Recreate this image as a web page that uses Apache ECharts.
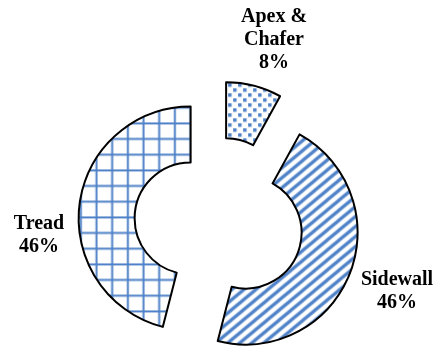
<!DOCTYPE html>
<html>
<head>
<meta charset="utf-8">
<script src="https://cdn.jsdelivr.net/npm/echarts@6/dist/echarts.min.js"></script>
<style>
  html, body { margin: 0; padding: 0; background: #fff; }
  #chart { width: 438px; height: 347px; }
</style>
</head>
<body>
<div id="chart"></div>
<script>
// Tyre component shares
const categories = ['Apex &\nChafer', 'Sidewall', 'Tread'];
const shares = [8, 46, 46];

const BLUE = '#4f82c8';

// Fill patterns drawn onto small canvases
function makeTile(w, h, draw) {
  const c = document.createElement('canvas');
  c.width = w; c.height = h;
  const ctx = c.getContext('2d');
  ctx.fillStyle = '#fff';
  ctx.fillRect(0, 0, w, h);
  draw(ctx, w, h);
  return c;
}

const dotsTile = makeTile(10, 10, (ctx) => {
  ctx.fillStyle = BLUE;
  ctx.fillRect(1, 1, 3.5, 3.5);
  ctx.fillRect(6, 6, 3.5, 3.5);
});

// rising diagonal stripes, about 40 degrees
const stripeTile = makeTile(12, 10, (ctx, w, h) => {
  ctx.strokeStyle = BLUE;
  ctx.lineWidth = 3.3;
  ctx.beginPath();
  for (let k = -1; k <= 1; k++) {
    ctx.moveTo(-w + k * w, 2 * h);
    ctx.lineTo(2 * w + k * w, -h);
  }
  ctx.stroke();
});

const gridTile = makeTile(47, 47, (ctx, s) => {
  ctx.strokeStyle = BLUE;
  ctx.lineWidth = 2;
  ctx.beginPath();
  const xs = [-0.5, 15.2, 30.8, 46.5];
  const ys = [1.6, 17.3, 33.0];
  xs.forEach(x => { ctx.moveTo(x, 0); ctx.lineTo(x, s); });
  ys.forEach(y => { ctx.moveTo(0, y); ctx.lineTo(s, y); });
  ctx.stroke();
});

const fills = [dotsTile, stripeTile, gridTile];

// Label block centres
const labelSpots = [
  { x: 274, y: 40 },
  { x: 397, y: 291 },
  { x: 39, y: 235 }
];

const chart = echarts.init(document.getElementById('chart'), null, { renderer: 'canvas' });

const data = categories.map((name, i) => {
  const style = {
    color: { image: fills[i], repeat: 'repeat' },
    borderColor: '#000',
    borderWidth: 2
  };
  return {
    name: name,
    value: shares[i],
    selected: true,
    itemStyle: style,
    select: { itemStyle: style }
  };
});

const total = shares.reduce((a, b) => a + b, 0);

// Category labels with their percentage
const labels = categories.map((name, i) => ({
  type: 'text',
  x: labelSpots[i].x,
  y: labelSpots[i].y,
  silent: true,
  style: {
    text: name + '\n' + Math.round(shares[i] / total * 100) + '%',
    fill: '#000',
    font: 'bold 20px "Liberation Serif", "Times New Roman", serif',
    lineHeight: 23,
    align: 'center',
    verticalAlign: 'middle'
  }
}));

chart.setOption({
  animation: false,
  graphic: labels,
  series: [{
    type: 'pie',
    center: [219, 222],
    radius: [56, 112],
    startAngle: 90,
    clockwise: true,
    selectedMode: 'multiple',
    selectedOffset: 28.6,
    emphasis: { disabled: true },
    label: { show: false },
    labelLine: { show: false },
    data: data
  }]
});
</script>
</body>
</html>
